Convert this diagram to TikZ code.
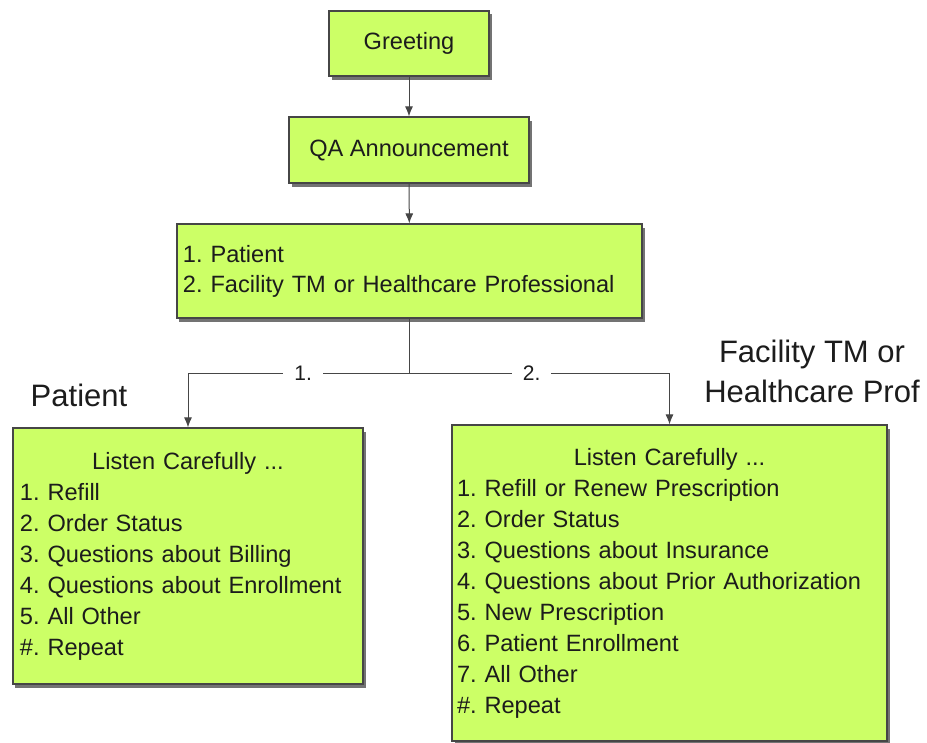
\documentclass[tikz,border=0pt]{standalone}
\usepackage{fontspec}
\setmainfont{Liberation Sans}
\frenchspacing
\usetikzlibrary{shadows,arrows.meta}
\definecolor{boxgreen}{RGB}{204,255,102}
\definecolor{edgegray}{RGB}{70,70,70}
\definecolor{txt}{RGB}{28,28,28}
\tikzset{
  box/.style={draw=edgegray, line width=1.2bp, fill=boxgreen,
    drop shadow={shadow xshift=2.5bp, shadow yshift=-3.5bp, opacity=0.55, fill=black},
    inner sep=0pt, text=txt, font=\fontsize{23.6bp}{31bp}\selectfont},
  arr/.style={draw=edgegray, line width=1bp, -{Latex[length=10bp,width=8bp]}},
  lbl/.style={text=txt, font=\fontsize{31bp}{40bp}\selectfont},
  numlbl/.style={fill=white, inner xsep=11bp, inner ysep=2bp, text=txt,
    font=\fontsize{21bp}{21bp}\selectfont},
}
\begin{document}
\begin{tikzpicture}[x=1bp,y=-1bp]
\useasboundingbox[fill=white] (0,0) rectangle (927,743);

\node[box, minimum width=160bp, minimum height=65bp] (greet) at (409,43.5) {Greeting};
\node[box, minimum width=240bp, minimum height=66bp] (qa) at (409,150) {QA Announcement};
\node[box, minimum width=465bp, minimum height=94bp, text width=453bp, align=left,
      font=\fontsize{23.6bp}{30bp}\selectfont] (who) at (409.5,271)
  {1. Patient\\2. Facility TM or Healthcare Professional};

\node[box, minimum width=350bp, minimum height=256bp, text width=336bp, align=left] (pat) at (188,556)
  {\makebox[\linewidth][c]{Listen Carefully ...}\\
   1. Refill\\
   2. Order Status\\
   3. Questions about Billing\\
   4. Questions about Enrollment\\
   5. All Other\\
   \#. Repeat};

\node[box, minimum width=435bp, minimum height=316bp, text width=425bp, align=left] (fac) at (669.5,583)
  {\makebox[\linewidth][c]{Listen Carefully ...}\\
   1. Refill or Renew Prescription\\
   2. Order Status\\
   3. Questions about Insurance\\
   4. Questions about Prior Authorization\\
   5. New Prescription\\
   6. Patient Enrollment\\
   7. All Other\\
   \#. Repeat};

\node[lbl, anchor=base] (patlbl) at (79,406) {Patient};
\node[lbl, anchor=base, align=center] (faclbl) at (812,402) {Facility TM or\\Healthcare Prof};

\draw[arr] (greet) -- (qa);
\draw[arr] (qa) -- (who);
\coordinate (j) at (409.5,373);
\draw[draw=edgegray, line width=1bp] (who.south) -- (j);
\draw[arr] (j) -| node[numlbl, pos=0.24] (l1) {1.} (pat.north);
\draw[arr] (j) -| node[numlbl, pos=0.235] (l2) {2.} (fac.north);
\end{tikzpicture}
\end{document}
